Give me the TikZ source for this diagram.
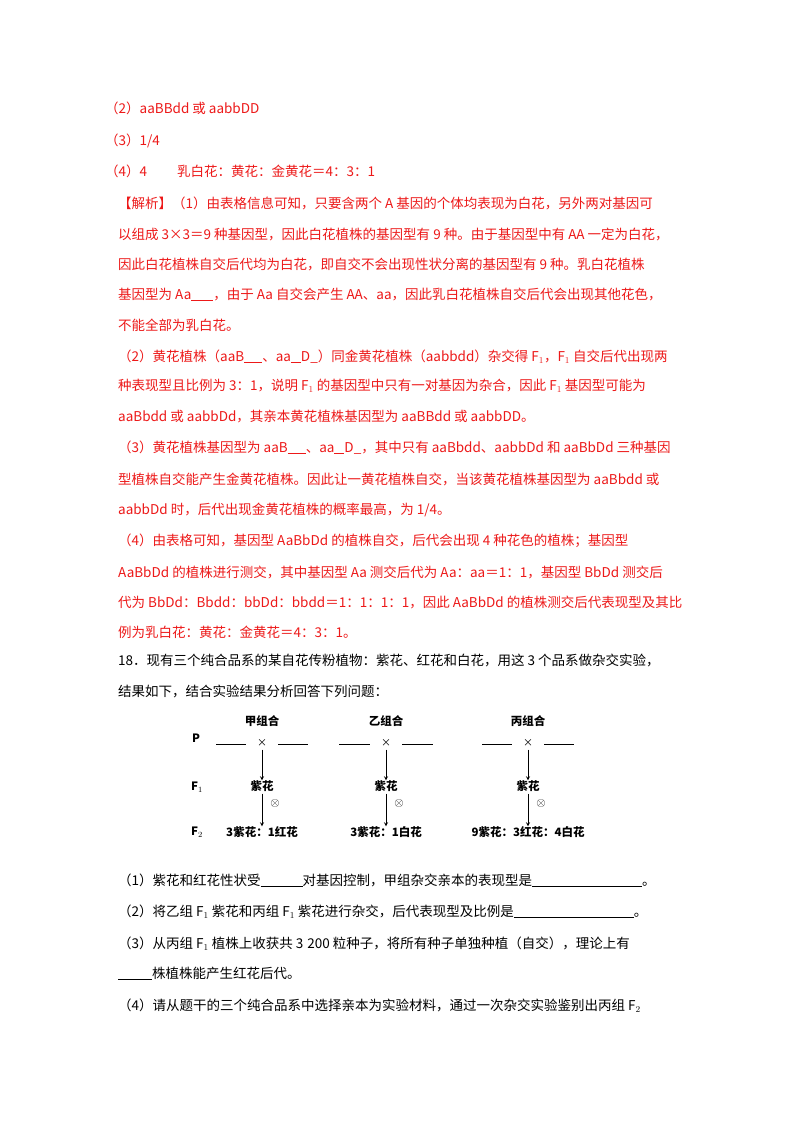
\documentclass[tikz,border=0pt]{standalone}
\usepackage{fontspec}
\setmainfont{Noto Sans CJK SC}
\usetikzlibrary{positioning,calc}
\definecolor{AnsRed}{rgb}{0.93,0.1,0.1}

\begin{document}
\begin{tikzpicture}[x=1pt,y=-1pt,
  txt/.style={anchor=base west,inner sep=0pt,font=\fontsize{13.5}{14}\selectfont},
  red/.style={txt,text=AnsRed},
  lab/.style={inner sep=0pt,font=\fontsize{11.5}{12}\bfseries\selectfont},
  arr/.style={->,>=stealth,line width=.8pt}]
\useasboundingbox (0,0) rectangle (800,1132);
\fill[white] (0,0) rectangle (800,1132);

% answers
\node[red] (a2) at (105,113) {（2）aaBBdd 或 aabbDD};
\node[red] (a3) at (105,145) {（3）1/4};
\node[red] (a4) at (105,176) {（4）4\hspace{30pt}乳白花：黄花：金黄花＝4：3：1};
\node[red] (j1) at (118,208) {【解析】（1）由表格信息可知，只要含两个 A 基因的个体均表现为白花，另外两对基因可};
\node[red] (j2) at (118,239) {以组成 3×3＝9 种基因型，因此白花植株的基因型有 9 种。由于基因型中有 AA 一定为白花，};
\node[red] (j3) at (118,269) {因此白花植株自交后代均为白花，即自交不会出现性状分离的基因型有 9 种。乳白花植株};
\node[red] (j4) at (118,299) {基因型为 Aa\rule[-1.5pt]{22pt}{.7pt}，由于 Aa 自交会产生 AA、aa，因此乳白花植株自交后代会出现其他花色，};
\node[red] (j5) at (118,330) {不能全部为乳白花。};
\node[red] (j6) at (118,361) {（2）黄花植株（aaB\rule[-1.5pt]{18pt}{.7pt}、aa\rule[-1.5pt]{10pt}{.7pt}D\_）同金黄花植株（aabbdd）杂交得 F$_1$，F$_1$ 自交后代出现两};
\node[red] (j7) at (118,390) {种表现型且比例为 3：1，说明 F$_1$ 的基因型中只有一对基因为杂合，因此 F$_1$ 基因型可能为};
\node[red] (j8) at (118,421) {aaBbdd 或 aabbDd，其亲本黄花植株基因型为 aaBBdd 或 aabbDD。};
\node[red] (j9) at (118,452) {（3）黄花植株基因型为 aaB\rule[-1.5pt]{18pt}{.7pt}、aa\rule[-1.5pt]{10pt}{.7pt}D\_，其中只有 aaBbdd、aabbDd 和 aaBbDd 三种基因};
\node[red] (j10) at (118,484) {型植株自交能产生金黄花植株。因此让一黄花植株自交，当该黄花植株基因型为 aaBbdd 或};
\node[red] (j11) at (118,514) {aabbDd 时，后代出现金黄花植株的概率最高，为 1/4。};
\node[red] (j12) at (118,545) {（4）由表格可知，基因型 AaBbDd 的植株自交，后代会出现 4 种花色的植株；基因型};
\node[red] (j13) at (118,577) {AaBbDd 的植株进行测交，其中基因型 Aa 测交后代为 Aa：aa＝1：1，基因型 BbDd 测交后};
\node[red] (j14) at (118,607) {代为 BbDd：Bbdd：bbDd：bbdd＝1：1：1：1，因此 AaBbDd 的植株测交后代表现型及其比};
\node[red] (j15) at (118,637) {例为乳白花：黄花：金黄花＝4：3：1。};

% question
\node[txt] (q1) at (118,665) {18．现有三个纯合品系的某自花传粉植物：紫花、红花和白花，用这 3 个品系做杂交实验，};
\node[txt] (q2) at (118,696) {结果如下，结合实验结果分析回答下列问题：};

% diagram
\node[lab] (P) at (196,738) {P};
\node[lab] (Fa) at (197,787) {F$_1$};
\node[lab] (Fb) at (197,832) {F$_2$};
\foreach \n/\cx/\w/\ttl/\res in {a/262/30/甲组合/3紫花：1红花, b/386/31/乙组合/3紫花：1白花, c/528/30/丙组合/9紫花：3红花：4白花}{
  \node[lab] (t\n) at (\cx,721) {\ttl};
  \node[lab,font=\fontsize{10}{10}\selectfont] (x\n) at (\cx,743) {×};
  \draw[line width=.8pt] ($(x\n)+(-16-\w,1)$) -- ++(\w,0);
  \draw[line width=.8pt] ($(x\n)+(16,1)$) -- ++(\w,0);
  \node[lab] (f\n) at (\cx,786) {紫花};
  \node[lab] (s\n) at (\cx,832) {\res};
  \draw[arr] (x\n.south) ++(0,3) -- (f\n.north);
  \draw[arr] (f\n.south) ++(0,2) -- (s\n.north);
  \node[lab,font=\fontsize{12}{12}\selectfont] (o\n) at (\cx+13,803) {$\otimes$};
}

% sub-questions
\node[txt] (q3) at (118,885) {（1）紫花和红花性状受\rule[-1.5pt]{42pt}{.7pt}对基因控制，甲组杂交亲本的表现型是\rule[-1.5pt]{110pt}{.7pt}。};
\node[txt] (q4) at (118,916) {（2）将乙组 F$_1$ 紫花和丙组 F$_1$ 紫花进行杂交，后代表现型及比例是\rule[-1.5pt]{120pt}{.7pt}。};
\node[txt] (q5) at (118,948) {（3）从丙组 F$_1$ 植株上收获共 3\hspace{4pt}200 粒种子，将所有种子单独种植（自交），理论上有};
\node[txt] (q6) at (118,978) {\rule[-1.5pt]{34pt}{.7pt}株植株能产生红花后代。};
\node[txt] (q7) at (118,1010) {（4）请从题干的三个纯合品系中选择亲本为实验材料，通过一次杂交实验鉴别出丙组 F$_2$};
\end{tikzpicture}
\end{document}
